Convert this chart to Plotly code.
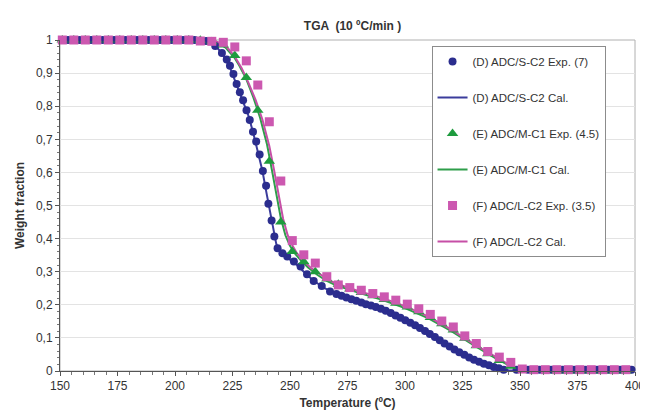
import plotly.graph_objects as go

# ---------------- data ----------------
title_text = "TGA  (10 ºC/min )"
x_title = "Temperature (ºC)"
y_title = "Weight fraction"

x_ticks = [150, 175, 200, 225, 250, 275, 300, 325, 350, 375, 400]
y_tickvals = [0, 0.1, 0.2, 0.3, 0.4, 0.5, 0.6, 0.7, 0.8, 0.9, 1]
y_ticktext = ["0", "0,1", "0,2", "0,3", "0,4", "0,5", "0,6", "0,7", "0,8", "0,9", "1"]

names = ["(D) ADC/S-C2 Exp. (7)", "(D) ADC/S-C2 Cal.",
         "(E) ADC/M-C1 Exp. (4.5)", "(E) ADC/M-C1 Cal.",
         "(F) ADC/L-C2 Exp. (3.5)", "(F) ADC/L-C2 Cal."]

# (D) experimental
d_exp_T = [153.5, 158.5, 163.5, 168.5, 173.5, 178.5, 183.5, 188.5, 193.5, 198.5, 203.5, 208.5, 213.5,
           217.5, 220.4, 222.5, 223.9, 225.4, 226.8, 228.2, 229.6, 231.1, 232.5, 233.9, 235.3, 236.8,
           238.2, 239.6, 240.6, 242.0, 243.2, 244.6, 246.7, 248.8, 251.7, 254.6, 257.4, 260.3, 263.8,
           267.4, 270.2, 272.4, 274.5, 276.7, 278.8, 281.0, 283.0, 285.2, 287.3, 289.5, 291.6, 293.8,
           295.9, 298.0, 300.1, 302.3, 304.4, 306.5, 308.7, 310.8, 313.0, 315.1, 317.2, 319.4, 321.5,
           323.6, 325.8, 327.9, 330.0, 332.2, 334.3, 336.5, 338.6, 340.8, 342.9,
           348.5, 353.5, 358.5, 363.5, 368.5, 373.5, 378.5, 383.5, 388.5, 393.5, 398.5]
d_exp_W = [1.0, 1.0, 1.0, 1.0, 1.0, 1.0, 1.0, 1.0, 1.0, 1.0, 1.0, 1.0, 0.997,
           0.982, 0.961, 0.941, 0.922, 0.897, 0.867, 0.842, 0.818, 0.788, 0.758, 0.723, 0.693, 0.654,
           0.604, 0.560, 0.505, 0.455, 0.406, 0.371, 0.356, 0.346, 0.331, 0.316, 0.292, 0.272, 0.257,
           0.240, 0.233, 0.227, 0.222, 0.217, 0.212, 0.207, 0.202, 0.198, 0.193, 0.188, 0.182, 0.175,
           0.168, 0.161, 0.153, 0.146, 0.138, 0.130, 0.121, 0.112, 0.103, 0.093, 0.083, 0.074, 0.065,
           0.057, 0.049, 0.041, 0.034, 0.028, 0.022, 0.017, 0.012, 0.008, 0.004,
           0.004, 0.004, 0.004, 0.004, 0.004, 0.004, 0.004, 0.004, 0.004, 0.004, 0.004]

# (D) calculated
d_cal_T = [150, 212, 215, 218, 220, 222, 224, 226, 228, 230, 232, 234, 236, 238, 240, 242, 244, 245,
           247, 250, 253, 256, 260, 265, 270, 280, 290, 300, 310, 320, 330, 340, 345, 350, 400]
d_cal_W = [1.0, 1.0, 0.995, 0.98, 0.963, 0.942, 0.915, 0.88, 0.845, 0.81, 0.77, 0.72, 0.665, 0.605,
           0.53, 0.455, 0.385, 0.366, 0.352, 0.336, 0.32, 0.3, 0.274, 0.25, 0.234, 0.21, 0.184, 0.153,
           0.115, 0.069, 0.034, 0.009, 0.002, 0.0, 0.0]

# (E) and (F) experimental share temperatures
ef_T = [151, 156, 161, 166, 171, 176, 181, 186, 191, 196, 201, 206, 211, 216, 221, 226, 231, 236,
        241, 246, 251, 256, 261, 266, 271, 276, 281, 286, 291, 296, 301, 306, 311, 316, 321, 326,
        331, 336, 341, 346, 351, 356, 361, 366, 371, 376, 381, 386, 391, 396, 401]
e_exp_W = [1.0, 1.0, 1.0, 1.0, 1.0, 1.0, 1.0, 1.0, 1.0, 1.0, 1.0, 1.0, 0.999, 0.995, 0.985, 0.953,
           0.887, 0.788, 0.634, 0.450, 0.361, 0.330, 0.300, 0.278, 0.262, 0.248, 0.237, 0.227, 0.216,
           0.205, 0.193, 0.179, 0.162, 0.143, 0.124, 0.099, 0.076, 0.052, 0.032, 0.014, -0.003,
           -0.007, -0.007, 0.0, 0.0, 0.0, 0.0, 0.0, 0.0, 0.0, 0.0]
f_exp_W = [1.0, 1.0, 1.0, 1.0, 1.0, 1.0, 1.0, 1.0, 1.0, 1.0, 1.0, 1.0, 0.997, 0.996, 0.993, 0.979,
           0.937, 0.864, 0.753, 0.574, 0.394, 0.351, 0.326, 0.285, 0.260, 0.252, 0.244, 0.234, 0.224,
           0.214, 0.202, 0.188, 0.171, 0.151, 0.133, 0.106, 0.083, 0.059, 0.042, 0.026, 0.006,
           0.004, 0.004, 0.004, 0.004, 0.004, 0.004, 0.004, 0.004, 0.004, 0.004]

# (E) calculated
e_cal_T = [150, 215, 218, 220, 222, 226, 228, 231, 234, 237, 240, 242, 244, 246, 248, 250, 252, 255,
           258, 262, 266, 270, 280, 290, 300, 310, 320, 330, 340, 345, 350, 355, 400]
e_cal_W = [1.0, 1.0, 0.995, 0.987, 0.977, 0.945, 0.922, 0.882, 0.828, 0.765, 0.685, 0.612, 0.532,
           0.462, 0.41, 0.378, 0.356, 0.332, 0.312, 0.29, 0.272, 0.259, 0.236, 0.215, 0.19, 0.16,
           0.121, 0.077, 0.036, 0.018, 0.004, 0.0, 0.0]

# (F) calculated
f_cal_T = [150, 216, 220, 223, 226, 229, 232, 235, 238, 241, 243, 245, 247, 249, 251, 253, 256, 259,
           263, 267, 271, 280, 290, 300, 310, 320, 330, 340, 345, 350, 355, 400]
f_cal_W = [1.0, 1.0, 0.99, 0.975, 0.95, 0.915, 0.87, 0.82, 0.76, 0.68, 0.61, 0.53, 0.46, 0.41,
           0.38, 0.356, 0.332, 0.312, 0.292, 0.274, 0.262, 0.241, 0.221, 0.196, 0.165, 0.126,
           0.081, 0.04, 0.02, 0.006, 0.0, 0.0]

# ---------------- styles ----------------
BLUE = "#2B2D8E"
GREEN = "#1E9B3E"
PINK = "#CC58B0"
FONT = "Liberation Sans, Arial, sans-serif"

fig = go.Figure()
# lines first (drawn below markers); legendrank keeps the legend order
fig.add_trace(go.Scatter(x=d_cal_T, y=d_cal_W, mode="lines", name=names[1], legendgroup="g2",
                         legendrank=2, line=dict(color="#3B3C9C", width=2), cliponaxis=False))
fig.add_trace(go.Scatter(x=e_cal_T, y=e_cal_W, mode="lines", name=names[3], legendgroup="g4",
                         legendrank=4, line=dict(color="#2E9E4A", width=2), cliponaxis=False))
fig.add_trace(go.Scatter(x=f_cal_T, y=f_cal_W, mode="lines", name=names[5], legendgroup="g6",
                         legendrank=6, line=dict(color="#C64FA6", width=2), cliponaxis=False))
fig.add_trace(go.Scatter(x=d_exp_T, y=d_exp_W, mode="markers", name=names[0], legendgroup="g1",
                         legendrank=1, marker=dict(symbol="circle", size=8, color=BLUE),
                         cliponaxis=False))
fig.add_trace(go.Scatter(x=ef_T, y=e_exp_W, mode="markers", name=names[2], legendgroup="g3",
                         legendrank=3, marker=dict(symbol="triangle-up", size=10, color=GREEN),
                         cliponaxis=False))
fig.add_trace(go.Scatter(x=ef_T, y=f_exp_W, mode="markers", name=names[4], legendgroup="g5",
                         legendrank=5, marker=dict(symbol="square", size=9, color=PINK),
                         cliponaxis=False))

fig.update_layout(
    width=648, height=411,
    margin=dict(l=52, r=11, t=32, b=43),
    paper_bgcolor="white", plot_bgcolor="white",
    font=dict(family=FONT, size=12, color="#333333"),
    title=dict(text="<b>" + title_text + "</b>", x=(52 + 637) / 2 / 648, xanchor="center",
               y=1 - 18 / 411, yanchor="middle", font=dict(size=12, color="#333333")),
    showlegend=True,
    legend=dict(x=(430 - 52) / 585, y=(368 - 38) / 336, xanchor="left", yanchor="top",
                bgcolor="white", bordercolor="#8C8C8C", borderwidth=1,
                font=dict(size=11.5, color="#333333"), traceorder="grouped",
                tracegroupgap=17, itemwidth=30),
)

fig.update_xaxes(range=[150, 400], tickvals=x_ticks, ticks="outside", ticklen=4,
                 tickcolor="#555555", showline=True, linecolor="#555555", linewidth=1,
                 showgrid=False, zeroline=False,
                 minor=dict(dtick=5, ticks="outside", ticklen=3, tickcolor="#777777"),
                 title=dict(text="<b>" + x_title + "</b>", standoff=6, font=dict(size=12)),
                 tickfont=dict(size=12, color="#333333"))
fig.update_yaxes(range=[0, 1], tickvals=y_tickvals, ticktext=y_ticktext, ticks="outside", ticklen=4,
                 tickcolor="#555555", showline=True, linecolor="#555555", linewidth=1,
                 showgrid=True, gridcolor="#E3E3E3", gridwidth=1, zeroline=False,
                 minor=dict(dtick=0.02, ticks="outside", ticklen=2, tickcolor="#777777", showgrid=False),
                 title=dict(text="<b>" + y_title + "</b>", standoff=8, font=dict(size=12)),
                 tickfont=dict(size=12, color="#333333"))

# light grey plot frame (top / right)
fig.add_shape(type="rect", xref="paper", yref="paper", x0=0, x1=1, y0=0, y1=1,
              line=dict(color="#B0B0B0", width=1), layer="below")

fig.write_html("out.html")
